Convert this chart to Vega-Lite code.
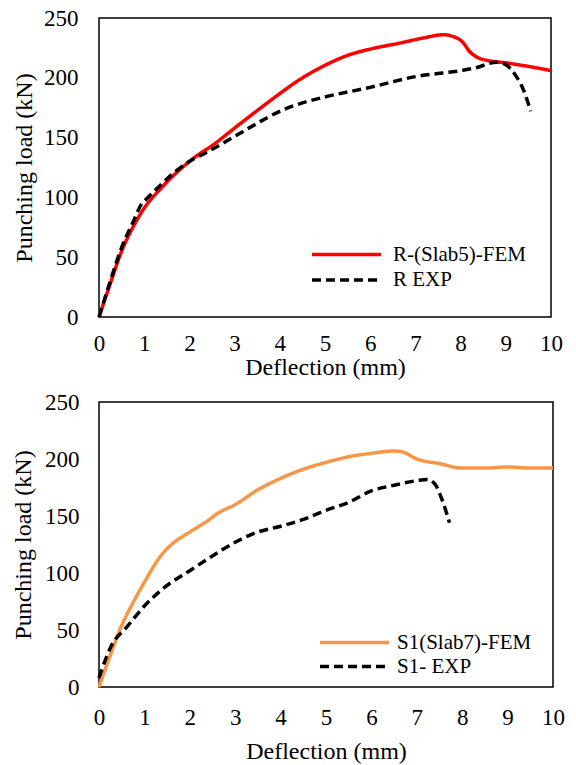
{
  "$schema": "https://vega.github.io/schema/vega-lite/v6.json",
  "padding": {"left": 10, "top": 6, "right": 5, "bottom": 5},
  "background": "white",
  "datasets": {
    "top": [
      {"series": "R-(Slab5)-FEM", "x": 0, "y": 0},
      {"series": "R-(Slab5)-FEM", "x": 0.25, "y": 28},
      {"series": "R-(Slab5)-FEM", "x": 0.5, "y": 55},
      {"series": "R-(Slab5)-FEM", "x": 0.75, "y": 75},
      {"series": "R-(Slab5)-FEM", "x": 1.0, "y": 91},
      {"series": "R-(Slab5)-FEM", "x": 1.38, "y": 108},
      {"series": "R-(Slab5)-FEM", "x": 2.03, "y": 131},
      {"series": "R-(Slab5)-FEM", "x": 2.6, "y": 146},
      {"series": "R-(Slab5)-FEM", "x": 3.0, "y": 158},
      {"series": "R-(Slab5)-FEM", "x": 3.41, "y": 170},
      {"series": "R-(Slab5)-FEM", "x": 3.9, "y": 184},
      {"series": "R-(Slab5)-FEM", "x": 4.38, "y": 197},
      {"series": "R-(Slab5)-FEM", "x": 5.03, "y": 211},
      {"series": "R-(Slab5)-FEM", "x": 5.52, "y": 219},
      {"series": "R-(Slab5)-FEM", "x": 6.0, "y": 224},
      {"series": "R-(Slab5)-FEM", "x": 6.65, "y": 229},
      {"series": "R-(Slab5)-FEM", "x": 7.14, "y": 233},
      {"series": "R-(Slab5)-FEM", "x": 7.63, "y": 236},
      {"series": "R-(Slab5)-FEM", "x": 7.79, "y": 235},
      {"series": "R-(Slab5)-FEM", "x": 8.04, "y": 230},
      {"series": "R-(Slab5)-FEM", "x": 8.2, "y": 222},
      {"series": "R-(Slab5)-FEM", "x": 8.44, "y": 216},
      {"series": "R-(Slab5)-FEM", "x": 9.09, "y": 212},
      {"series": "R-(Slab5)-FEM", "x": 9.58, "y": 209},
      {"series": "R-(Slab5)-FEM", "x": 10, "y": 206},
      {"series": "R EXP", "x": 0, "y": 0},
      {"series": "R EXP", "x": 0.25, "y": 30},
      {"series": "R EXP", "x": 0.5, "y": 58},
      {"series": "R EXP", "x": 0.75, "y": 79},
      {"series": "R EXP", "x": 0.95, "y": 95},
      {"series": "R EXP", "x": 1.06, "y": 99},
      {"series": "R EXP", "x": 1.3, "y": 108},
      {"series": "R EXP", "x": 1.7, "y": 122},
      {"series": "R EXP", "x": 2.0, "y": 130},
      {"series": "R EXP", "x": 2.4, "y": 138},
      {"series": "R EXP", "x": 3.0, "y": 151},
      {"series": "R EXP", "x": 3.5, "y": 162},
      {"series": "R EXP", "x": 4.0, "y": 172},
      {"series": "R EXP", "x": 4.5, "y": 179},
      {"series": "R EXP", "x": 5.0, "y": 184},
      {"series": "R EXP", "x": 6.0, "y": 192},
      {"series": "R EXP", "x": 7.0, "y": 201},
      {"series": "R EXP", "x": 8.0, "y": 206},
      {"series": "R EXP", "x": 8.3, "y": 208},
      {"series": "R EXP", "x": 8.8, "y": 213},
      {"series": "R EXP", "x": 9.0, "y": 211},
      {"series": "R EXP", "x": 9.2, "y": 203},
      {"series": "R EXP", "x": 9.4, "y": 189},
      {"series": "R EXP", "x": 9.55, "y": 172}
    ],
    "bottom": [
      {"series": "S1(Slab7)-FEM", "x": 0, "y": 0},
      {"series": "S1(Slab7)-FEM", "x": 0.25, "y": 28},
      {"series": "S1(Slab7)-FEM", "x": 0.5, "y": 54},
      {"series": "S1(Slab7)-FEM", "x": 0.75, "y": 74},
      {"series": "S1(Slab7)-FEM", "x": 1.0, "y": 92},
      {"series": "S1(Slab7)-FEM", "x": 1.4, "y": 117},
      {"series": "S1(Slab7)-FEM", "x": 1.6, "y": 125},
      {"series": "S1(Slab7)-FEM", "x": 2.0, "y": 136},
      {"series": "S1(Slab7)-FEM", "x": 2.4, "y": 146},
      {"series": "S1(Slab7)-FEM", "x": 2.6, "y": 152},
      {"series": "S1(Slab7)-FEM", "x": 3.0, "y": 160},
      {"series": "S1(Slab7)-FEM", "x": 3.5, "y": 173},
      {"series": "S1(Slab7)-FEM", "x": 4.0, "y": 183},
      {"series": "S1(Slab7)-FEM", "x": 4.5, "y": 191},
      {"series": "S1(Slab7)-FEM", "x": 5.0, "y": 197},
      {"series": "S1(Slab7)-FEM", "x": 5.5, "y": 202},
      {"series": "S1(Slab7)-FEM", "x": 6.0, "y": 205},
      {"series": "S1(Slab7)-FEM", "x": 6.5, "y": 207},
      {"series": "S1(Slab7)-FEM", "x": 6.7, "y": 206},
      {"series": "S1(Slab7)-FEM", "x": 7.0, "y": 200},
      {"series": "S1(Slab7)-FEM", "x": 7.5, "y": 196},
      {"series": "S1(Slab7)-FEM", "x": 8.0, "y": 192},
      {"series": "S1(Slab7)-FEM", "x": 8.5, "y": 192},
      {"series": "S1(Slab7)-FEM", "x": 9.0, "y": 193},
      {"series": "S1(Slab7)-FEM", "x": 9.5, "y": 192},
      {"series": "S1(Slab7)-FEM", "x": 10, "y": 192},
      {"series": "S1- EXP", "x": 0, "y": 8},
      {"series": "S1- EXP", "x": 0.06, "y": 15},
      {"series": "S1- EXP", "x": 0.27, "y": 36},
      {"series": "S1- EXP", "x": 0.6, "y": 52},
      {"series": "S1- EXP", "x": 1.0, "y": 71},
      {"series": "S1- EXP", "x": 1.4, "y": 86},
      {"series": "S1- EXP", "x": 2.0, "y": 102},
      {"series": "S1- EXP", "x": 2.5, "y": 115},
      {"series": "S1- EXP", "x": 3.0, "y": 127},
      {"series": "S1- EXP", "x": 3.5, "y": 136},
      {"series": "S1- EXP", "x": 4.0, "y": 141},
      {"series": "S1- EXP", "x": 4.5, "y": 147},
      {"series": "S1- EXP", "x": 5.0, "y": 155},
      {"series": "S1- EXP", "x": 5.5, "y": 162},
      {"series": "S1- EXP", "x": 6.0, "y": 172},
      {"series": "S1- EXP", "x": 6.5, "y": 177},
      {"series": "S1- EXP", "x": 7.0, "y": 181},
      {"series": "S1- EXP", "x": 7.23, "y": 182},
      {"series": "S1- EXP", "x": 7.4, "y": 178},
      {"series": "S1- EXP", "x": 7.55, "y": 165},
      {"series": "S1- EXP", "x": 7.72, "y": 144}
    ]
  },
  "config": {
    "font": "Liberation Serif",
    "view": {"stroke": "black", "strokeWidth": 1.5},
    "axis": {
      "grid": false, "ticks": false, "tickSize": 0, "domain": false,
      "labelFont": "Liberation Serif", "labelFontSize": 23, "labelColor": "black",
      "labelFlush": false, "labelOverlap": false,
      "titleFont": "Liberation Serif", "titleFontSize": 24, "titleFontWeight": "normal", "titleColor": "black"
    },
    "legend": {
      "symbolType": "M-3,0H3", "symbolSize": 529, "symbolStrokeWidth": 3.5,
      "labelFont": "Liberation Serif", "labelFontSize": 21, "labelColor": "black",
      "padding": 0, "labelLimit": 300
    },
    "concat": {"spacing": 10}
  },
  "vconcat": [
    {
      "width": 452, "height": 299,
      "data": {"name": "top"},
      "mark": {"type": "line", "interpolate": "monotone", "strokeWidth": 3.5},
      "encoding": {
        "x": {"field": "x", "type": "quantitative", "scale": {"domain": [0, 10], "nice": false},
          "axis": {"values": [0,1,2,3,4,5,6,7,8,9,10], "title": "Deflection (mm)", "labelPadding": 15, "titlePadding": 0}},
        "y": {"field": "y", "type": "quantitative", "scale": {"domain": [0, 250], "nice": false},
          "axis": {"values": [0,50,100,150,200,250], "title": "Punching load (kN)", "labelPadding": 21, "titlePadding": 7}},
        "color": {"field": "series", "type": "nominal",
          "scale": {"domain": ["R-(Slab5)-FEM", "R EXP"], "range": ["#FF0000", "#000000"]},
          "legend": {"title": null, "orient": "none", "legendX": 234, "legendY": 223, "rowPadding": 1.5, "labelOffset": 33}},
        "strokeDash": {"field": "series", "type": "nominal",
          "scale": {"domain": ["R-(Slab5)-FEM", "R EXP"], "range": [[1, 0], [9, 5]]},
          "legend": {"title": null, "orient": "none", "legendX": 234, "legendY": 223, "rowPadding": 1.5, "labelOffset": 33}}
      }
    },
    {
      "width": 454, "height": 285,
      "data": {"name": "bottom"},
      "mark": {"type": "line", "interpolate": "monotone", "strokeWidth": 3.5},
      "encoding": {
        "x": {"field": "x", "type": "quantitative", "scale": {"domain": [0, 10], "nice": false},
          "axis": {"values": [0,1,2,3,4,5,6,7,8,9,10], "title": "Deflection (mm)", "labelPadding": 19, "titlePadding": 10}},
        "y": {"field": "y", "type": "quantitative", "scale": {"domain": [0, 250], "nice": false},
          "axis": {"values": [0,50,100,150,200,250], "title": "Punching load (kN)", "labelPadding": 20, "titlePadding": 9}},
        "color": {"field": "series", "type": "nominal",
          "scale": {"domain": ["S1(Slab7)-FEM", "S1- EXP"], "range": ["#F79646", "#000000"]},
          "legend": {"title": null, "orient": "none", "legendX": 242, "legendY": 227, "rowPadding": -1, "labelOffset": 29}},
        "strokeDash": {"field": "series", "type": "nominal",
          "scale": {"domain": ["S1(Slab7)-FEM", "S1- EXP"], "range": [[1, 0], [9, 5]]},
          "legend": {"title": null, "orient": "none", "legendX": 242, "legendY": 227, "rowPadding": -1, "labelOffset": 29}}
      }
    }
  ],
  "resolve": {"scale": {"color": "independent", "strokeDash": "independent"}}
}
